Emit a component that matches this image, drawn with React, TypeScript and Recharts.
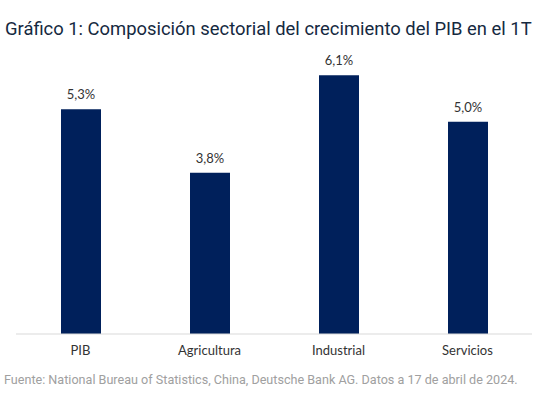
import React from 'react';
import { BarChart, Bar, XAxis, YAxis, LabelList } from 'recharts';

const sectors = ['PIB', 'Agricultura', 'Industrial', 'Servicios'];
const growth = [5.3, 3.8, 6.1, 5.0];

const data = sectors.map((name, i) => ({ name, value: growth[i] }));

const fmt = (v: number) => v.toFixed(1).replace('.', ',') + '%';

export default function App() {
  return (
    <div style={{ position: 'absolute', left: 0, top: 0, width: 546, height: 394, background: '#fff', fontFamily: 'Roboto, sans-serif' }}>
      <div style={{ position: 'absolute', left: 5, top: 18, fontSize: 18.4, color: '#15293f', whiteSpace: 'nowrap' }}>
        Gráfico 1: Composición sectorial del crecimiento del PIB en el 1T
      </div>
      <BarChart
        width={546}
        height={394}
        data={data}
        margin={{ top: 37, right: 14, left: 16, bottom: 30 }}
      >
        <YAxis hide domain={[0, 7]} />
        <XAxis
          dataKey="name"
          axisLine={{ stroke: '#d9d9d9' }}
          tickLine={false}
          tickMargin={6}
          height={30}
          tick={{ fill: '#333', fontSize: 13, fontFamily: 'Lato, sans-serif' }}
        />
        <Bar dataKey="value" fill="#00205b" barSize={40} isAnimationActive={false}>
          <LabelList
            dataKey="value"
            position="top"
            offset={10}
            formatter={(v: any) => fmt(Number(v))}
            style={{ fill: '#333', fontSize: 13, fontFamily: 'Lato, sans-serif' }}
          />
        </Bar>
      </BarChart>
      <div style={{ position: 'absolute', left: 4, top: 372, fontSize: 12.6, color: '#a0a0a0', whiteSpace: 'nowrap' }}>
        Fuente: National Bureau of Statistics, China, Deutsche Bank AG. Datos a 17 de abril de 2024.
      </div>
    </div>
  );
}
